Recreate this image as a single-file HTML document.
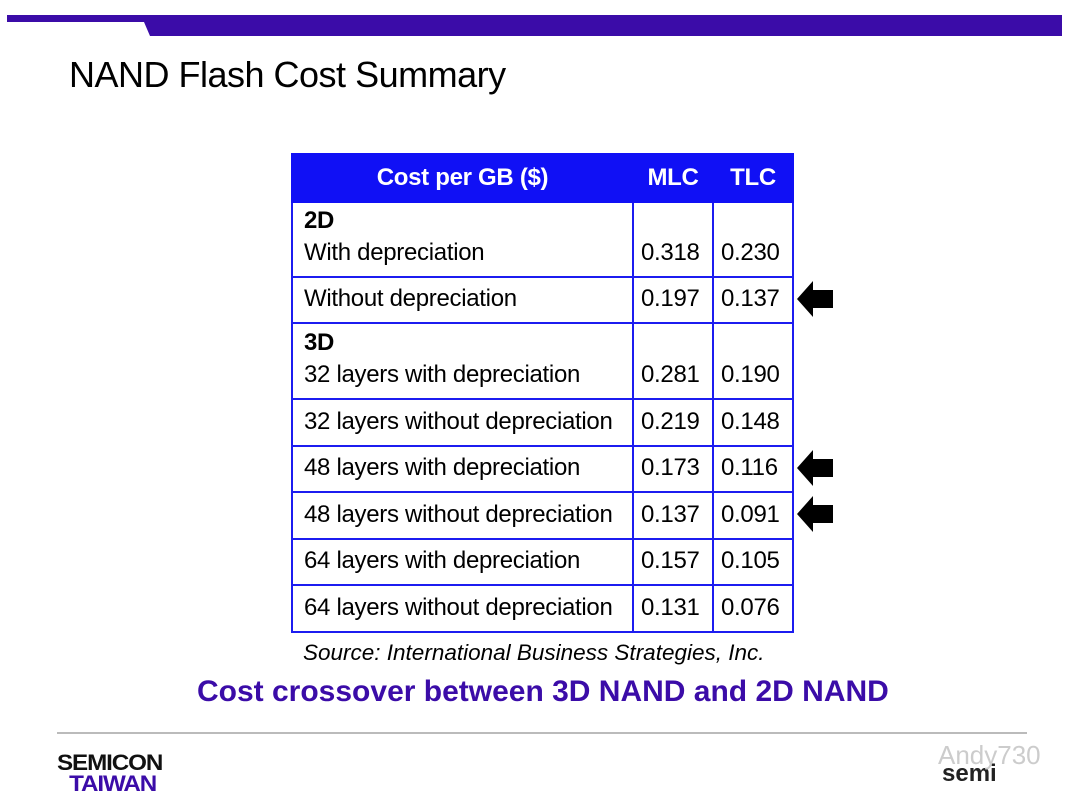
<!DOCTYPE html>
<html><head><meta charset="utf-8"><style>
body{margin:0;width:1080px;height:810px;background:#fff;position:relative;overflow:hidden;font-family:"Liberation Sans",Arial,sans-serif}
.abs{position:absolute}
table{position:absolute;left:291px;top:153px;border-collapse:collapse;width:501px;table-layout:fixed}
td,th{border:2px solid #1c1cf0;font-size:24px;line-height:32px;color:#000;padding:0 0 7px 11px;text-align:left;vertical-align:bottom;white-space:nowrap;letter-spacing:-0.3px}
th{background:#1010f5;color:#fff;font-weight:bold;text-align:center;vertical-align:middle;height:44px;padding:0;border-color:#1010f5;border-left:2px solid #fff}
th:first-child{border-left-color:#1010f5}
td.n{padding:0 0 7px 7px}
.arrow{position:absolute;left:797px;width:36px;height:36px}
</style></head><body>
<svg class="abs" style="left:0;top:0" width="1080" height="40"><polygon points="7,15 1062,15 1062,36 150,36 144,22 7,22" fill="#3b0ca8"/></svg>
<div class="abs" style="left:69px;top:54px;font-size:36px;color:#000;letter-spacing:-0.5px">NAND Flash Cost Summary</div>
<table>
<colgroup><col style="width:341px"><col style="width:80px"><col style="width:80px"></colgroup>
<tr style="height:48px"><th>Cost per GB ($)</th><th>MLC</th><th>TLC</th></tr>
<tr style="height:75px"><td><b>2D</b><br>With depreciation</td><td class="n">0.318</td><td class="n">0.230</td></tr>
<tr style="height:46px"><td>Without depreciation</td><td class="n">0.197</td><td class="n">0.137</td></tr>
<tr style="height:76px"><td><b>3D</b><br>32 layers with depreciation</td><td class="n">0.281</td><td class="n">0.190</td></tr>
<tr style="height:47px"><td>32 layers without depreciation</td><td class="n">0.219</td><td class="n">0.148</td></tr>
<tr style="height:46px"><td>48 layers with depreciation</td><td class="n">0.173</td><td class="n">0.116</td></tr>
<tr style="height:47px"><td>48 layers without depreciation</td><td class="n">0.137</td><td class="n">0.091</td></tr>
<tr style="height:46px"><td>64 layers with depreciation</td><td class="n">0.157</td><td class="n">0.105</td></tr>
<tr style="height:47px"><td>64 layers without depreciation</td><td class="n">0.131</td><td class="n">0.076</td></tr>
</table>
<svg class="arrow" style="top:281px" viewBox="0 0 36 36"><polygon points="0,18 16,0 16,9 36,9 36,27 16,27 16,36" fill="#000"/></svg>
<svg class="arrow" style="top:450px" viewBox="0 0 36 36"><polygon points="0,18 16,0 16,9 36,9 36,27 16,27 16,36" fill="#000"/></svg>
<svg class="arrow" style="top:496px" viewBox="0 0 36 36"><polygon points="0,18 16,0 16,9 36,9 36,27 16,27 16,36" fill="#000"/></svg>
<div class="abs" style="left:303px;top:640px;font-size:22.5px;font-style:italic;color:#000">Source: International Business Strategies, Inc.</div>
<div class="abs" style="left:197px;top:675px;font-size:30px;font-weight:bold;color:#3b0ca8">Cost crossover between 3D NAND and 2D NAND</div>
<div class="abs" style="left:57px;top:732px;width:970px;height:2px;background:#bbb"></div>
<div class="abs" style="left:57px;top:752px;font-size:22px;font-weight:900;line-height:21px;letter-spacing:-1px;transform:scaleX(1.1);transform-origin:left"><span style="color:#111">SEMICON</span><br><span style="color:#3b0ca8;margin-left:11px">TAIWAN</span></div>
<div class="abs" style="left:942px;top:760px;font-size:24px;font-weight:bold;color:#222">semi</div>
<div class="abs" style="left:938px;top:740px;font-size:26px;color:#ccc">Andy730</div>
</body></html>
